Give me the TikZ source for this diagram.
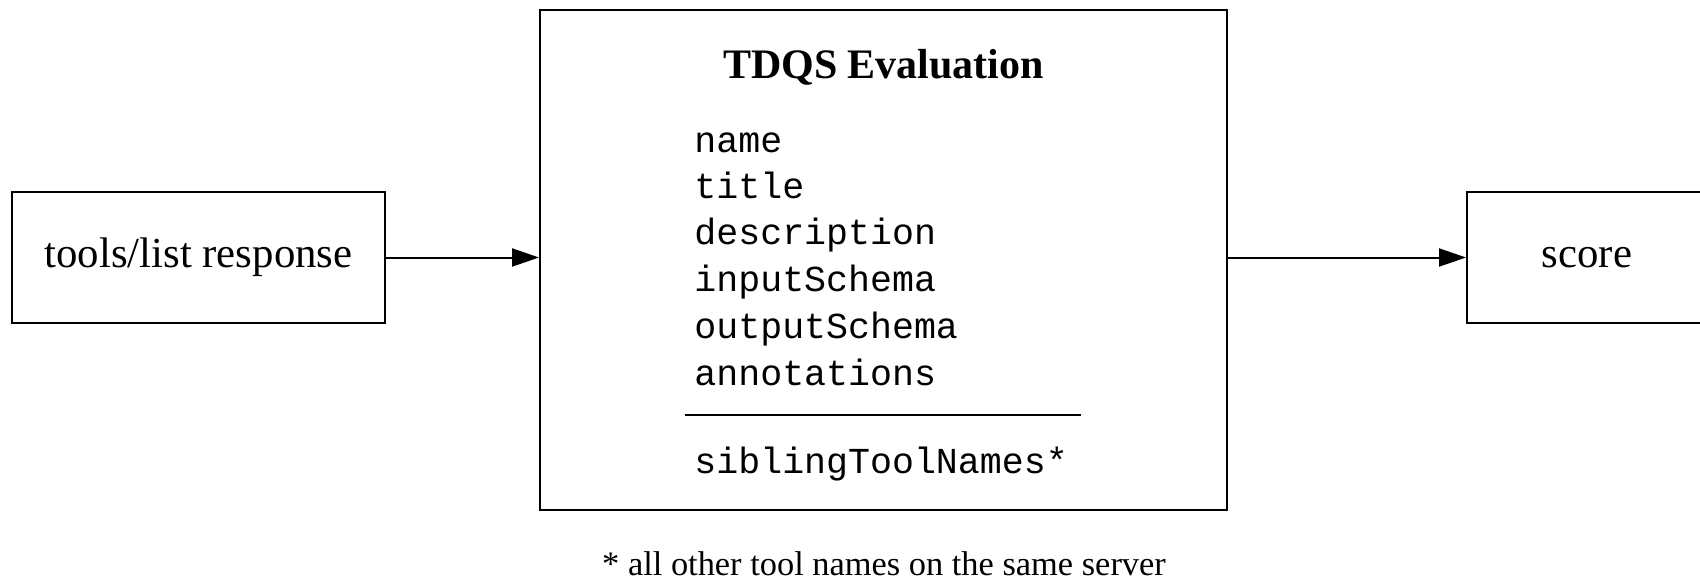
\documentclass[tikz,border=0pt]{standalone}
\usepackage{fontspec}
\setmainfont{Liberation Serif}
\setmonofont{Liberation Mono}
\usetikzlibrary{arrows.meta}

\begin{document}
\begin{tikzpicture}[x=0.5pt,y=0.5pt,
  box/.style={draw,line width=1pt,inner sep=0pt,font=\fontsize{21.4}{25}\selectfont},
  field/.style={anchor=base west,inner sep=0pt,font=\ttfamily\fontsize{18.3}{22}\selectfont},
  flow/.style={line width=1pt,-{Triangle[length=13.5pt,width=9pt]}}]

\useasboundingbox (0,0) rectangle (1700,579);

\node[box,minimum width=186.5pt,minimum height=65.5pt] (toolsList) at (198.5,321.5) {tools/list response};
\node[box,minimum width=343.5pt,minimum height=250pt] (evaluation) at (883.5,319) {};
\node[box,minimum width=120pt,minimum height=65.5pt] (score) at (1587,321.5) {score};

\node[anchor=base,inner sep=0pt,font=\bfseries\fontsize{21}{25}\selectfont] (evalTitle) at (883.5,500) {TDQS Evaluation};
\node[field] (fName) at (694,426) {name};
\node[field] (fTitle) at (694,380) {title};
\node[field] (fDescription) at (694,335) {description};
\node[field] (fInput) at (694,288) {inputSchema};
\node[field] (fOutput) at (694,241) {outputSchema};
\node[field] (fAnnotations) at (694,194) {annotations};
\coordinate (ruleLeft) at (685,164);
\coordinate (ruleRight) at (1081,164);
\draw[line width=0.6pt] (ruleLeft) -- (ruleRight);
\node[field] (fSiblings) at (694,106) {siblingToolNames*};

\draw[flow] (toolsList.east) -- (toolsList.east -| evaluation.west);
\draw[flow] (evaluation.east |- score.west) -- (score.west);

\node[anchor=base,inner sep=0pt,font=\fontsize{17.2}{20}\selectfont] (footnote) at (884,4) {* all other tool names on the same server};
\end{tikzpicture}
\end{document}
